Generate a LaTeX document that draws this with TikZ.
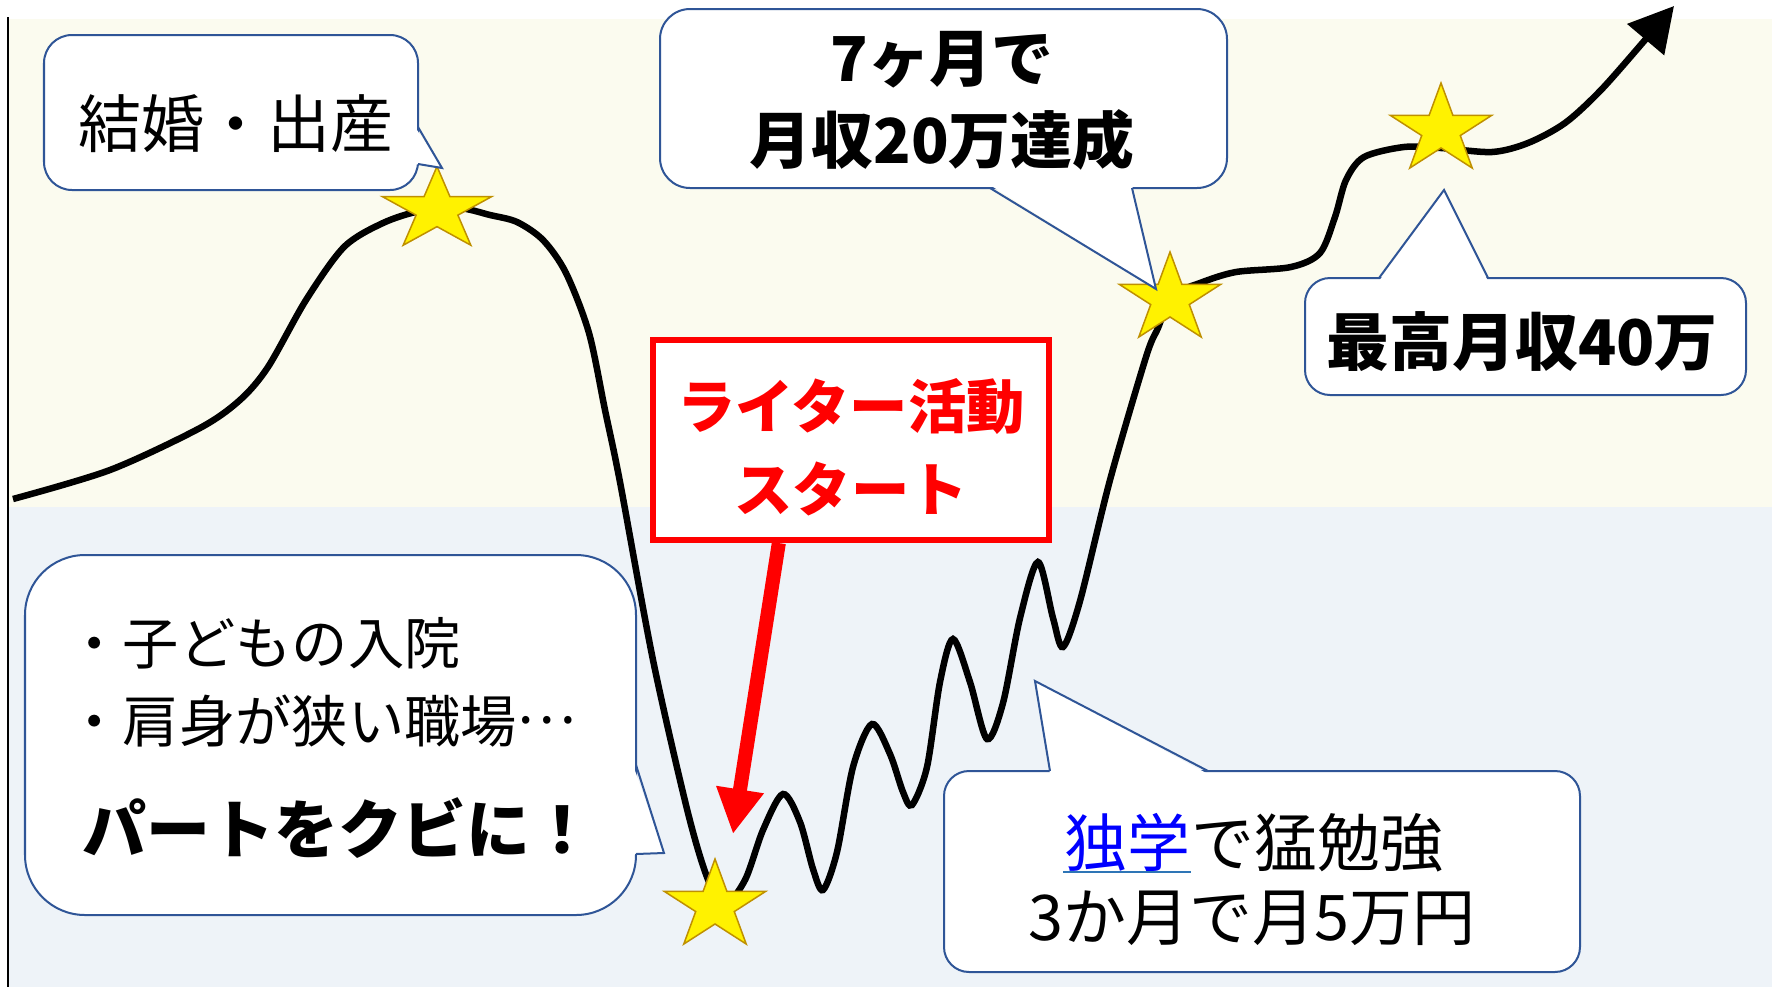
\documentclass[tikz,border=0pt]{standalone}
\usepackage{fontspec}
\setmainfont{Noto Sans CJK JP}
\usetikzlibrary{shapes.geometric,arrows.meta,positioning}
\definecolor{creambg}{HTML}{FBFBEF}
\definecolor{bluebg}{HTML}{EEF3F8}
\definecolor{bubbleline}{HTML}{2F5597}
\definecolor{starline}{HTML}{BF9000}
\definecolor{ulblue}{HTML}{2E75B6}
\definecolor{textblue}{HTML}{0000FF}
\begin{document}
\begin{tikzpicture}[x=0.01cm,y=-0.01cm,
  bubble/.style={draw=bubbleline,fill=white,line width=0.02cm},
  tail/.style={draw=bubbleline,line width=0.02cm},
  starmark/.style={star,star points=5,star point ratio=2.618,draw=starline,fill=yellow,line width=0.015cm,inner sep=0pt,minimum size=0.94cm,xscale=1.13},
  words/.style={inner sep=0pt,align=center}]
\useasboundingbox (0,0) rectangle (1772,987);
\fill[creambg] (9,19) rectangle (1772,507);
\fill[bluebg] (9,507) rectangle (1772,987);
\draw[line width=0.02cm] (8,17) -- (8,987);

\draw[line width=0.065cm,-{Triangle[length=0.44cm,width=0.47cm]}] plot[smooth] coordinates {
  (13,499) (110,470) (200,428) (240,400) (268,367) (306,300) (344,247) (383,223) (420,211) (459,208)
  (490,215) (517,222) (543,240) (566,273) (589,333) (605,410) (620,482) (653,660) (687,809) (707,877)
  (724,905) (745,880) (763,830) (783,794) (800,822) (813,869) (823,890) (837,852) (853,767) (872,724)
  (890,754) (903,792) (912,805) (927,767) (940,682) (953,639) (970,682) (987,739) (1003,703) (1020,618)
  (1038,562) (1053,618) (1063,647) (1080,601) (1110,480) (1146,357) (1158,328) (1172,296) (1200,283)
  (1236,272) (1291,267) (1320,253) (1335,217) (1346,180) (1364,157) (1404,147) (1441,148) (1492,152)
  (1528,143) (1565,123) (1601,90) (1645,40) (1674,6)};

\node[starmark,minimum size=0.87cm,xscale=1.17] (marrystar) at (437,210) {};
\node[starmark] (startstar) at (715,906) {};
\node[starmark] (goalstar) at (1170,299) {};
\node[starmark] (topstar) at (1441,130) {};

\node[draw=red,line width=0.06cm,fill=white,minimum width=3.96cm,minimum height=2cm,inner sep=0pt] (startbox) at (851,440) {};
\node[words,text=red,font=\bfseries\fontsize{16.6}{23.6}\selectfont] (starttext) at (851,447) {ライター活動\\スタート};
\coordinate (arrowtip) at (733,834);
\draw[red,line width=0.14cm,-{Triangle[length=0.45cm,width=0.45cm]}] (startbox.235) -- (arrowtip);

\draw[bubble,rounded corners=0.28cm] (44,35) rectangle (418,190);
\fill[white] (415,127) -- (442,168) -- (415,164) -- cycle;
\draw[tail] (418,127) -- (442,168) -- (418,164);
\node[words,font=\fontsize{17.9}{22}\selectfont] (marry) at (236,124) {結婚・出産};

\draw[bubble,rounded corners=0.3cm] (660,9) rectangle (1227,188);
\fill[white] (990,185) -- (1156,289) -- (1132,185) -- cycle;
\draw[tail] (990,188) -- (1156,289) -- (1132,188);
\node[words,font=\bfseries\fontsize{17.6}{23.3}\selectfont] (seven) at (942,101) {7ヶ月で\\月収20万達成};

\draw[bubble,rounded corners=0.25cm] (1305,278) rectangle (1746,395);
\fill[white] (1379,281) -- (1444,190) -- (1488,281) -- cycle;
\draw[tail] (1379,278) -- (1444,190) -- (1488,278);
\node[words,font=\bfseries\fontsize{17.9}{22}\selectfont] (maxpay) at (1522,342) {最高月収40万};

\draw[bubble,rounded corners=0.6cm] (25,555) rectangle (636,915);
\fill[white] (633,765) -- (664,853) -- (633,854) -- cycle;
\draw[tail] (636,765) -- (664,853) -- (636,854);
\node[words,anchor=west,align=left,font=\fontsize{16}{22.2}\selectfont] (reasons) at (66,682) {・子どもの入院\\・肩身が狭い職場\raisebox{0.33em}{…}};
\node[words,anchor=west,font=\bfseries\fontsize{18.2}{22}\selectfont] (fired) at (82,828) {パートをクビに！};

\draw[bubble,rounded corners=0.25cm] (944,771) rectangle (1580,972);
\fill[white] (1050,774) -- (1035,681) -- (1208,774) -- cycle;
\draw[tail] (1050,771) -- (1035,681) -- (1208,771);
\node[words,text=textblue,font=\fontsize{17.9}{22}\selectfont] (selfstudy) at (1127,842) {独学};
\node[words,base right=0pt of selfstudy,font=\fontsize{17.9}{22}\selectfont] (hardwork) {で猛勉強};
\draw[ulblue,line width=0.025cm] (selfstudy.south west) -- (selfstudy.south east);
\node[words,font=\fontsize{17.9}{22}\selectfont] (fiveman) at (1252,918) {3か月で月5万円};
\end{tikzpicture}
\end{document}
